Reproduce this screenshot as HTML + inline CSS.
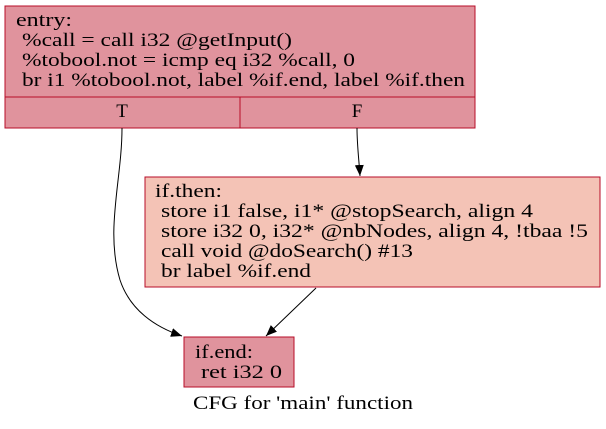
<!DOCTYPE html>
<html><head><meta charset="utf-8"><style>html,body{margin:0;padding:0;background:#fff}</style></head>
<body>
<svg width="606" height="424" viewBox="0 0 606 424" xmlns="http://www.w3.org/2000/svg" font-family="Liberation Serif, serif" font-size="19">
<defs><marker id="a" markerWidth="12" markerHeight="12" refX="11" refY="5.5" orient="auto" markerUnits="userSpaceOnUse"><path d="M0,1 L11,5.5 L0,10 z" fill="#000"/></marker></defs>
<rect x="5" y="6" width="470" height="122" fill="#e0939d" stroke="#b70d28"/>
<line x1="5" y1="97" x2="475" y2="97" stroke="#b70d28"/>
<line x1="240" y1="97" x2="240" y2="128" stroke="#b70d28"/>
<text x="16" y="26" textLength="56" lengthAdjust="spacingAndGlyphs">entry:</text>
<text x="22" y="46" textLength="270" lengthAdjust="spacingAndGlyphs">%call = call i32 @getInput()</text>
<text x="22" y="66" textLength="333" lengthAdjust="spacingAndGlyphs">%tobool.not = icmp eq i32 %call, 0</text>
<text x="22" y="86" textLength="443" lengthAdjust="spacingAndGlyphs">br i1 %tobool.not, label %if.end, label %if.then</text>
<text x="122" y="117" text-anchor="middle">T</text>
<text x="357" y="117" text-anchor="middle">F</text>
<rect x="145" y="177" width="455" height="110" fill="#f4c3b6" stroke="#b70d28"/>
<text x="155" y="197" textLength="67" lengthAdjust="spacingAndGlyphs">if.then:</text>
<text x="161" y="217" textLength="372" lengthAdjust="spacingAndGlyphs">store i1 false, i1* @stopSearch, align 4</text>
<text x="161" y="237" textLength="427" lengthAdjust="spacingAndGlyphs">store i32 0, i32* @nbNodes, align 4, !tbaa !5</text>
<text x="161" y="257" textLength="252" lengthAdjust="spacingAndGlyphs">call void @doSearch() #13</text>
<text x="161" y="277" textLength="150" lengthAdjust="spacingAndGlyphs">br label %if.end</text>
<rect x="184" y="337" width="110" height="50" fill="#e0939d" stroke="#b70d28"/>
<text x="195" y="358" textLength="58" lengthAdjust="spacingAndGlyphs">if.end:</text>
<text x="201" y="378" textLength="81" lengthAdjust="spacingAndGlyphs">ret i32 0</text>
<text x="303" y="409" text-anchor="middle" textLength="220" lengthAdjust="spacingAndGlyphs">CFG for 'main' function</text>
<path d="M122,128 C122,180 105,230 120,280 C130,310 155,327 182,336" fill="none" stroke="#000" marker-end="url(#a)"/>
<path d="M357,128 C357,145 359,160 360,176" fill="none" stroke="#000" marker-end="url(#a)"/>
<path d="M316,288 L266,336" fill="none" stroke="#000" marker-end="url(#a)"/>
</svg>
</body></html>
